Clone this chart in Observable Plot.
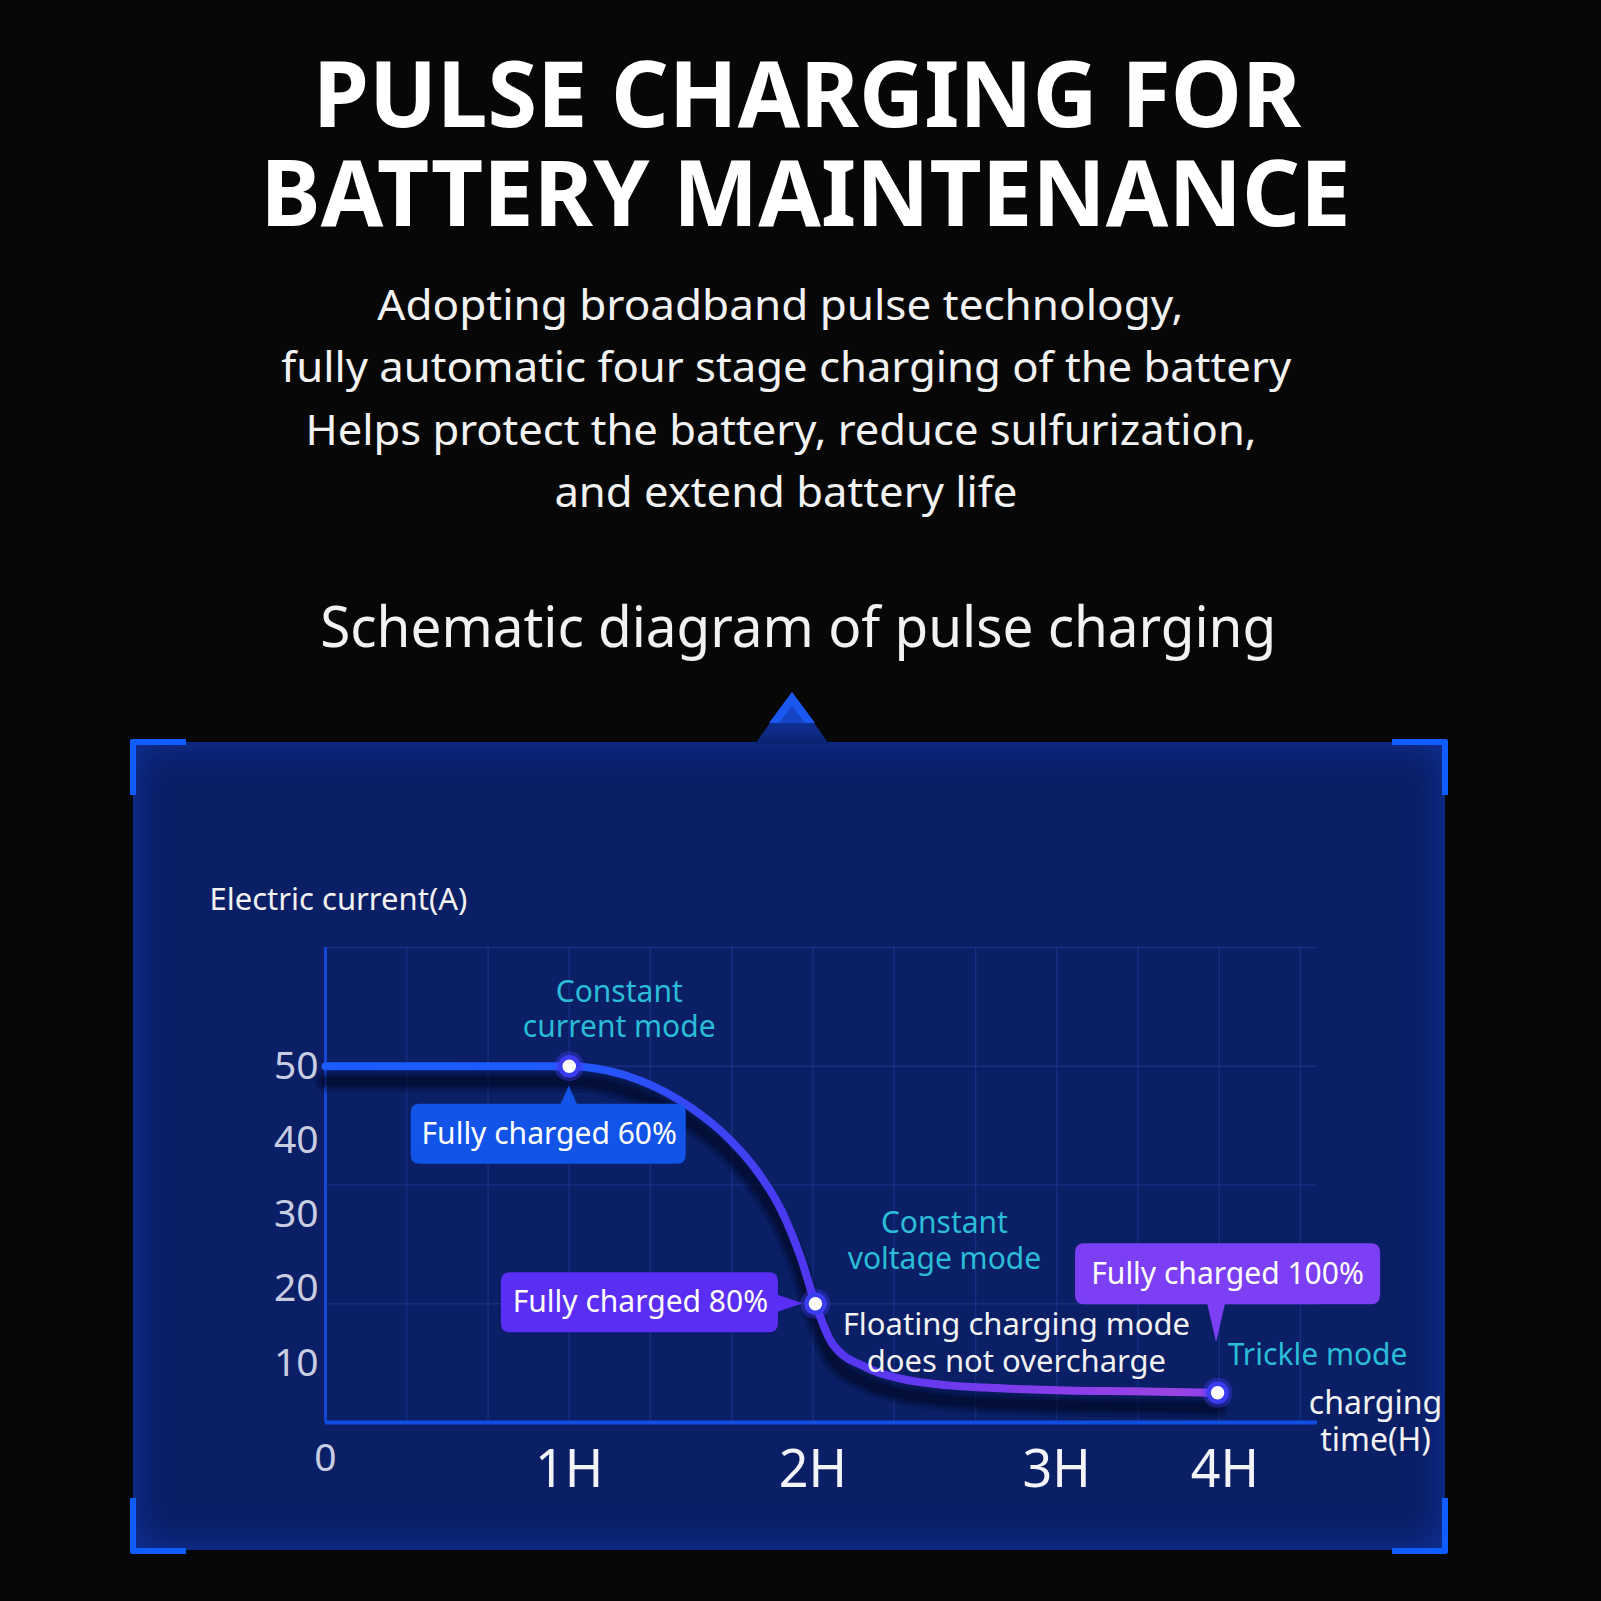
<!DOCTYPE html>
<html>
<head>
<meta charset="utf-8">
<script src="https://cdn.jsdelivr.net/npm/d3@7"></script>
<script src="https://cdn.jsdelivr.net/npm/@observablehq/plot@0.6"></script>
<style>
html, body { margin: 0; padding: 0; background: #070707; }
#page { position: relative; width: 1601px; height: 1601px; overflow: hidden; background: #070707; font-family: 'Noto Sans', sans-serif; }
.hdr { position: absolute; white-space: nowrap; line-height: 1; color: #ffffff; transform-origin: 50% 50%; }
#panel { position: absolute; left: 133px; top: 742px; width: 1312px; height: 808px;
  background: #0a1f66; box-shadow: inset 0 0 38px rgba(24, 78, 230, 0.45); }
.corner { position: absolute; width: 50px; height: 50px; border: 0 solid #0f5cff; }
#chart { position: absolute; left: 0; top: 840px; }
#deco { position: absolute; left: 0; top: 0; }
</style>
</head>
<body>
<div id="page">
  <div id="panel"></div>
  <div class="corner" style="left:130px;top:739px;border-left-width:6px;border-top-width:6px;border-top-left-radius:3px"></div>
  <div class="corner" style="left:1392px;top:739px;border-right-width:6px;border-top-width:6px;border-top-right-radius:3px"></div>
  <div class="corner" style="left:130px;top:1498px;border-left-width:6px;border-bottom-width:6px;border-bottom-left-radius:3px"></div>
  <div class="corner" style="left:1392px;top:1498px;border-right-width:6px;border-bottom-width:6px;border-bottom-right-radius:3px"></div>
  <svg id="deco" width="1601" height="800">
    <defs>
      <linearGradient id="notchFill" x1="0" y1="0" x2="0" y2="1">
        <stop offset="0" stop-color="#1546c8"/>
        <stop offset="1" stop-color="#0b2270"/>
      </linearGradient>
    </defs>
    <polygon points="755,744 792,692 829,744" fill="url(#notchFill)"/>
    <polygon points="792,692 769,723 815,723" fill="#1b58f2"/>
    <polygon points="792,706 779,723 805,723" fill="#1443c4"/>
  </svg>
  <div id="chart"></div>
</div>
<script>
// ---------- text content ----------
const titleLines = ["PULSE CHARGING FOR", "BATTERY MAINTENANCE"];
const subtitleLines = [
  "Adopting broadband pulse technology,",
  "fully automatic four stage charging of the battery",
  "Helps protect the battery, reduce sulfurization,",
  "and extend battery life"
];
const diagramTitle = "Schematic diagram of pulse charging";

// ---------- chart data ----------
const curveHours = [0, 1, 1.157, 1.29, 1.50, 1.65, 1.77, 1.87, 1.95, 2.01, 2.08, 2.22, 2.36, 2.56, 2.77, 3.04, 3.31, 3.66];
const curveAmps  = [50, 50, 49.4, 48.1, 44.4, 40.4, 35.9, 30.6, 24.2, 18, 12.6, 9.4, 7.9, 7.0, 6.6, 6.3, 6.2, 6.0];
const keyHours = [1, 2.01, 3.66];
const keyAmps = [50, 18, 6];
const chargeLabels = ["Fully charged 60%", "Fully charged 80%", "Fully charged 100%"];
const modeLabels = ["Constant\ncurrent mode", "Constant\nvoltage mode", "Trickle mode"];
const floatLabel = "Floating charging mode\ndoes not overcharge";
const yTicks = [10, 20, 30, 40, 50];
const xTickHours = [0, 1, 2, 3, 3.69];
const xTickLabels = ["0", "1H", "2H", "3H", "4H"];
const gridHours = [0.333, 0.667, 1, 1.333, 1.667, 2, 2.333, 2.667, 3, 3.333, 3.667, 4];
const gridAmps = [18, 34, 50, 66];
const yTitle = "Electric current(A)";
const xTitle = "charging\ntime(H)";

const curve = curveHours.map((h, i) => ({h, a: curveAmps[i]}));

// ---------- header ----------
const page = document.getElementById("page");
const headerLayout = [
  {text: titleLines[0], size: 91, weight: 700, cx: 807, base: 128, w: 988},
  {text: titleLines[1], size: 91, weight: 700, cx: 806, base: 227, w: 1090},
  {text: subtitleLines[0], size: 42, weight: 400, cx: 780, base: 320, w: 806},
  {text: subtitleLines[1], size: 42, weight: 400, cx: 786, base: 382, w: 1010},
  {text: subtitleLines[2], size: 42, weight: 400, cx: 781, base: 445, w: 951},
  {text: subtitleLines[3], size: 42, weight: 400, cx: 786, base: 507, w: 463},
  {text: diagramTitle, size: 56, weight: 400, cx: 798, base: 647, w: 956}
];
headerLayout.forEach(h => {
  const el = document.createElement("div");
  el.className = "hdr";
  el.textContent = h.text;
  el.style.fontSize = h.size + "px";
  el.style.fontWeight = h.weight;
  el.style.color = h.weight === 700 ? "#ffffff" : "#f2f2f2";
  page.appendChild(el);
  const w0 = el.getBoundingClientRect().width;
  el.style.left = (h.cx - w0 / 2) + "px";
  el.style.top = (h.base - 0.888 * h.size) + "px";
  el.style.transform = `scaleX(${h.w / w0})`;
});

// ---------- custom marks ----------
function gradientDefs() {
  const defs = d3.create("svg:defs");
  const lg = defs.append("linearGradient").attr("id", "pulseGrad")
    .attr("x1", 0).attr("x2", 1).attr("y1", 0).attr("y2", 0);
  [[0, "#1a5cff"], [0.27, "#1e5aff"], [0.42, "#3846f4"], [0.55, "#5236f2"],
   [0.64, "#5e38f0"], [0.82, "#883eea"], [0.95, "#9a44e2"], [1, "#8c40ea"]]
    .forEach(([o, c]) => lg.append("stop").attr("offset", o).attr("stop-color", c));
  return defs.node();
}

function callouts(index, scales) {
  const sx = typeof scales.x === "function" ? scales.x : scales.x.apply;
  const sy = typeof scales.y === "function" ? scales.y : scales.y.apply;
  const g = d3.create("svg:g");
  const rr = (x0, y0, x1, y1, r) =>
    `M${x0 + r},${y0}H${x1 - r}Q${x1},${y0} ${x1},${y0 + r}V${y1 - r}Q${x1},${y1} ${x1 - r},${y1}` +
    `H${x0 + r}Q${x0},${y1} ${x0},${y1 - r}V${y0 + r}Q${x0},${y0} ${x0 + r},${y0}Z`;
  // box and pointer offsets (px) relative to each key point
  const shapes = [
    {box: [-158, 38, 117, 98], tri: [[-9, 40], [0, 20], [9, 40]], fill: "#1254e8"},
    {box: [-314, -31, -37, 29], tri: [[-39, -9], [-12, 0], [-39, 9]], fill: "#5a2ef4"},
    {box: [-142, -149, 163, -88], tri: [[-10, -89], [-1, -50], [8, -89]], fill: "#7c3ff4"}
  ];
  shapes.forEach((s, i) => {
    const X = sx(keyHours[i]), Y = sy(keyAmps[i]);
    g.append("path").attr("d", rr(X + s.box[0], Y + s.box[1], X + s.box[2], Y + s.box[3], 9)).attr("fill", s.fill);
    g.append("path").attr("d", "M" + s.tri.map(p => (X + p[0]) + "," + (Y + p[1])).join("L") + "Z").attr("fill", s.fill);
  });
  return g.node();
}

const at = (i, text, dx, dy, opts) =>
  Plot.text([i], {x: j => keyHours[j], y: j => keyAmps[j], text: () => text, dx, dy, ...opts});

const FONT = "'Noto Sans', sans-serif";
const cyan = "#2bbcd8";

const chart = Plot.plot({
  width: 1601,
  height: 700,
  marginLeft: 325,
  marginRight: 284,
  marginTop: 107,
  marginBottom: 118,
  x: {domain: [0, 4.07], axis: null},
  y: {domain: [2, 66], axis: null},
  style: {background: "transparent", fontFamily: FONT, overflow: "visible"},
  marks: [
    gradientDefs,
    Plot.ruleX(gridHours, {stroke: "#2c52b8", strokeOpacity: 0.32, strokeWidth: 1.5}),
    Plot.ruleY(gridAmps, {stroke: "#2c52b8", strokeOpacity: 0.32, strokeWidth: 1.5}),
    Plot.ruleX([0], {stroke: "#1446d6", strokeWidth: 3}),
    Plot.ruleY([2], {stroke: "#0e4fe2", strokeWidth: 4}),
    // shadow under the curve
    Plot.line(curve, {x: "h", y: "a", curve: "monotone-x", stroke: "#020826", strokeWidth: 22, strokeOpacity: 0.22, dy: 15}),
    Plot.line(curve, {x: "h", y: "a", curve: "monotone-x", stroke: "#020826", strokeWidth: 15, strokeOpacity: 0.3, dy: 15}),
    Plot.line(curve, {x: "h", y: "a", curve: "monotone-x", stroke: "#020826", strokeWidth: 9, strokeOpacity: 0.45, dy: 15}),
    // curve
    Plot.line(curve, {x: "h", y: "a", curve: "monotone-x", stroke: "url(#pulseGrad)", strokeWidth: 8}),
    callouts,
    // key points
    Plot.dot(keyHours.map((h, i) => ({h, a: keyAmps[i]})), {x: "h", y: "a", r: 15, fill: "#4a3cff", fillOpacity: 0.35}),
    Plot.dot(keyHours.map((h, i) => ({h, a: keyAmps[i]})), {x: "h", y: "a", r: 9, fill: "#ffffff", stroke: "#3c3cf0", strokeWidth: 4.5}),
    // callout texts
    at(0, chargeLabels[0], -20, 68, {fill: "#ffffff", fontSize: 30, fontFamily: FONT}),
    at(1, chargeLabels[1], -175, -1, {fill: "#ffffff", fontSize: 30, fontFamily: FONT}),
    at(2, chargeLabels[2], 10, -118, {fill: "#ffffff", fontSize: 30, fontFamily: FONT}),
    // mode labels
    at(0, modeLabels[0], 50, -58, {fill: cyan, fontSize: 30, lineHeight: 1.17, fontFamily: FONT}),
    at(1, modeLabels[1], 129, -64, {fill: cyan, fontSize: 30, lineHeight: 1.17, fontFamily: FONT}),
    at(2, modeLabels[2], 100, -37, {fill: cyan, fontSize: 30, fontFamily: FONT}),
    at(1, floatLabel, 201, 38, {fill: "#f2f2f2", fontSize: 31, lineHeight: 1.17, fontFamily: FONT}),
    // y tick labels
    Plot.text(yTicks, {frameAnchor: "left", y: d => d, text: d => String(d), textAnchor: "end", lineAnchor: "middle", dx: -7,
      fontSize: 39, fill: "#c8cde2", fontFamily: FONT}),
    // x tick labels
    Plot.text(xTickHours.slice(1), {x: d => d, frameAnchor: "bottom", text: (d, i) => xTickLabels[i + 1],
      textAnchor: "middle", lineAnchor: "middle", dy: 48, fontSize: 52, fill: "#f2f4fa", fontFamily: FONT}),
    Plot.text(xTickHours.slice(0, 1), {x: d => d, frameAnchor: "bottom", text: () => xTickLabels[0],
      textAnchor: "middle", lineAnchor: "middle", dy: 36, fontSize: 39, fill: "#c8cde2", fontFamily: FONT}),
    // axis titles
    Plot.text([yTitle], {frameAnchor: "top-left", text: d => d, textAnchor: "start", lineAnchor: "middle", dx: -116, dy: -47,
      fontSize: 31, fill: "#f2f2f2", fontFamily: FONT}),
    Plot.text([xTitle], {frameAnchor: "bottom-right", text: d => d, textAnchor: "middle", lineAnchor: "middle",
      dx: 58, dy: -2, lineHeight: 1.15, fontSize: 32, fill: "#f2f2f2", fontFamily: FONT})
  ]
});
document.getElementById("chart").appendChild(chart);
</script>
</body>
</html>
